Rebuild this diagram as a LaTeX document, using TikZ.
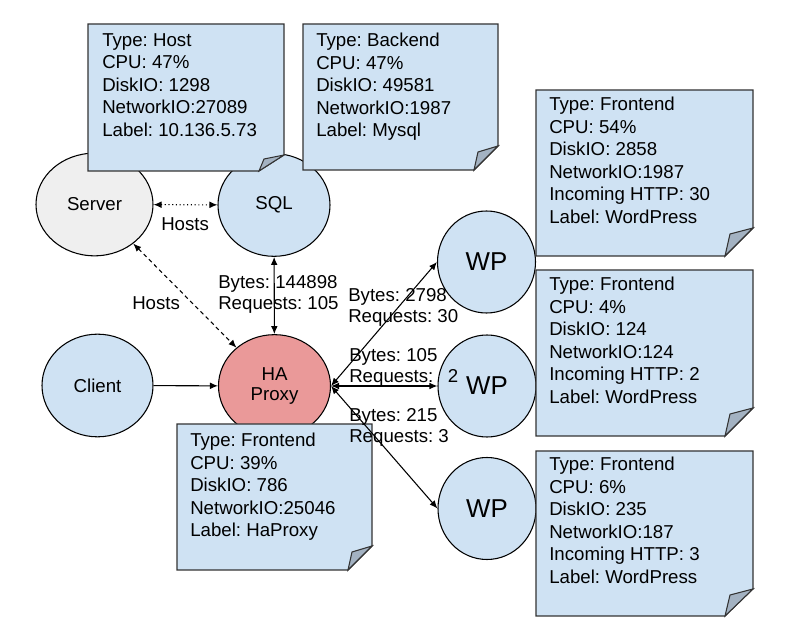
\documentclass[tikz,border=0pt]{standalone}
\usepackage{fontspec}
\setmainfont{Liberation Sans}
\usetikzlibrary{shapes.geometric,arrows.meta}
\frenchspacing

\begin{document}
\begin{tikzpicture}[x=0.75pt,y=0.75pt,yscale=-1,xscale=1,
	every node/.style={font=\fontsize{14}{16.9}\selectfont},
	host/.style={ellipse,draw={rgb, 255:red, 0; green, 0; blue, 0},line width=0.8pt,inner sep=0pt,minimum width=84pt,minimum height=77pt,fill={rgb, 255:red, 207; green, 226; blue, 243}},
	wp/.style={host,minimum width=73.5pt,minimum height=76.5pt,font=\fontsize{19.4}{23}\selectfont},
	note/.style={draw={rgb, 255:red, 51; green, 51; blue, 51},line width=0.8pt,fill={rgb, 255:red, 207; green, 226; blue, 243}},
	fold/.style={note,fill={rgb, 255:red, 163; green, 178; blue, 194}},
	info/.style={anchor=north west,inner sep=0pt,align=left},
	edgelabel/.style={anchor=north west,inner sep=0pt,align=left,font=\fontsize{14}{16}\selectfont},
	link/.style={line width=0.8pt,{Latex[length=6pt,width=5pt]}-{Latex[length=6pt,width=5pt]}}]
	\useasboundingbox (0,0) rectangle (794,641);
	\node [host,fill={rgb, 255:red, 239; green, 239; blue, 239},minimum width=87.75pt] (server) at (94.5,204.5) {Server};
	\node [host] (sql) at (274,205) {SQL};
	\node [host,minimum width=83.25pt] (client) at (97.5,385.5) {Client};
	\node [host,fill={rgb, 255:red, 234; green, 153; blue, 153},align=center,font=\fontsize{14}{15.5}\selectfont] (haproxy) at (274.5,386) {HA\\Proxy};
	\node [wp] (wp1) at (486.5,262) {WP};
	\node [wp] (wp2) at (487,386) {WP};
	\node [wp] (wp3) at (487,508.5) {WP};
	\draw [note] (88,24) -- (284,24) -- (284,155) -- (259,171) -- (88,171) -- cycle ;
	\draw [fold] (284,155) -- (259,171) -- (264,159) -- cycle ;
	\draw [note] (303,24) -- (498,24) -- (498,146) -- (474,170) -- (303,170) -- cycle ;
	\draw [fold] (498,146) -- (474,170) -- (478,152) -- cycle ;
	\draw [note] (536,90) -- (753,90) -- (753,228) -- (725,256) -- (536,256) -- cycle ;
	\draw [fold] (753,228) -- (725,256) -- (730,234) -- cycle ;
	\draw [note] (536,270) -- (753,270) -- (753,408) -- (725,436) -- (536,436) -- cycle ;
	\draw [fold] (753,408) -- (725,436) -- (730,414) -- cycle ;
	\draw [note] (536,451) -- (753,451) -- (753,589) -- (725,616) -- (536,616) -- cycle ;
	\draw [fold] (753,589) -- (725,616) -- (730,595) -- cycle ;
	\draw [note] (177,424) -- (372,424) -- (372,546) -- (348,570) -- (177,570) -- cycle ;
	\draw [fold] (372,546) -- (348,570) -- (352,552) -- cycle ;
	\node [info] (hostinfo) at (102,33) {Type: Host\\CPU: 47\%\\DiskIO: 1298\\NetworkIO:27089\\Label: 10.136.5.73};
	\node [info] (sqlinfo) at (316,33) {Type: Backend\\CPU: 47\%\\DiskIO: 49581\\NetworkIO:1987\\Label: Mysql};
	\node [info] (wp1info) at (549,97) {Type: Frontend\\CPU: 54\%\\DiskIO: 2858\\NetworkIO:1987\\Incoming HTTP: 30\\Label: WordPress};
	\node [info] (wp2info) at (549,277) {Type: Frontend\\CPU: 4\%\\DiskIO: 124\\NetworkIO:124\\Incoming HTTP: 2\\Label: WordPress};
	\node [info] (wp3info) at (549,457) {Type: Frontend\\CPU: 6\%\\DiskIO: 235\\NetworkIO:187\\Incoming HTTP: 3\\Label: WordPress};
	\node [info] (hainfo) at (190,433) {Type: Frontend\\CPU: 39\%\\DiskIO: 786\\NetworkIO:25046\\Label: HaProxy};
	\draw [link,dotted] (server) -- (sql) ;
	\draw [link] (sql) -- (haproxy) ;
	\draw [link,dash pattern=on 3pt off 2.5pt] (server) -- (haproxy) ;
	\draw [line width=0.8pt,-{Latex[length=6pt,width=5pt]}] (client) -- (haproxy) ;
	\draw [link] (haproxy.east) -- (wp1.west) ;
	\draw [link] (haproxy.east) -- (wp2.west) ;
	\draw [link] (haproxy.east) -- (wp3.west) ;
	\node [edgelabel] (hostslabel) at (161,217) {Hosts};
	\node [edgelabel] (haslabel) at (132,296) {Hosts};
	\node [edgelabel] (sqllabel) at (218,275) {Bytes: 144898\\Requests: 105};
	\node [edgelabel] (wp1label) at (348,288) {Bytes: 2798\\Requests: 30};
	\node [edgelabel] (wp2label) at (349,348) {Bytes: 105\\Requests:\hspace{11pt}2};
	\node [edgelabel] (wp3label) at (349,408) {Bytes: 215\\Requests: 3};
\end{tikzpicture}
\end{document}
